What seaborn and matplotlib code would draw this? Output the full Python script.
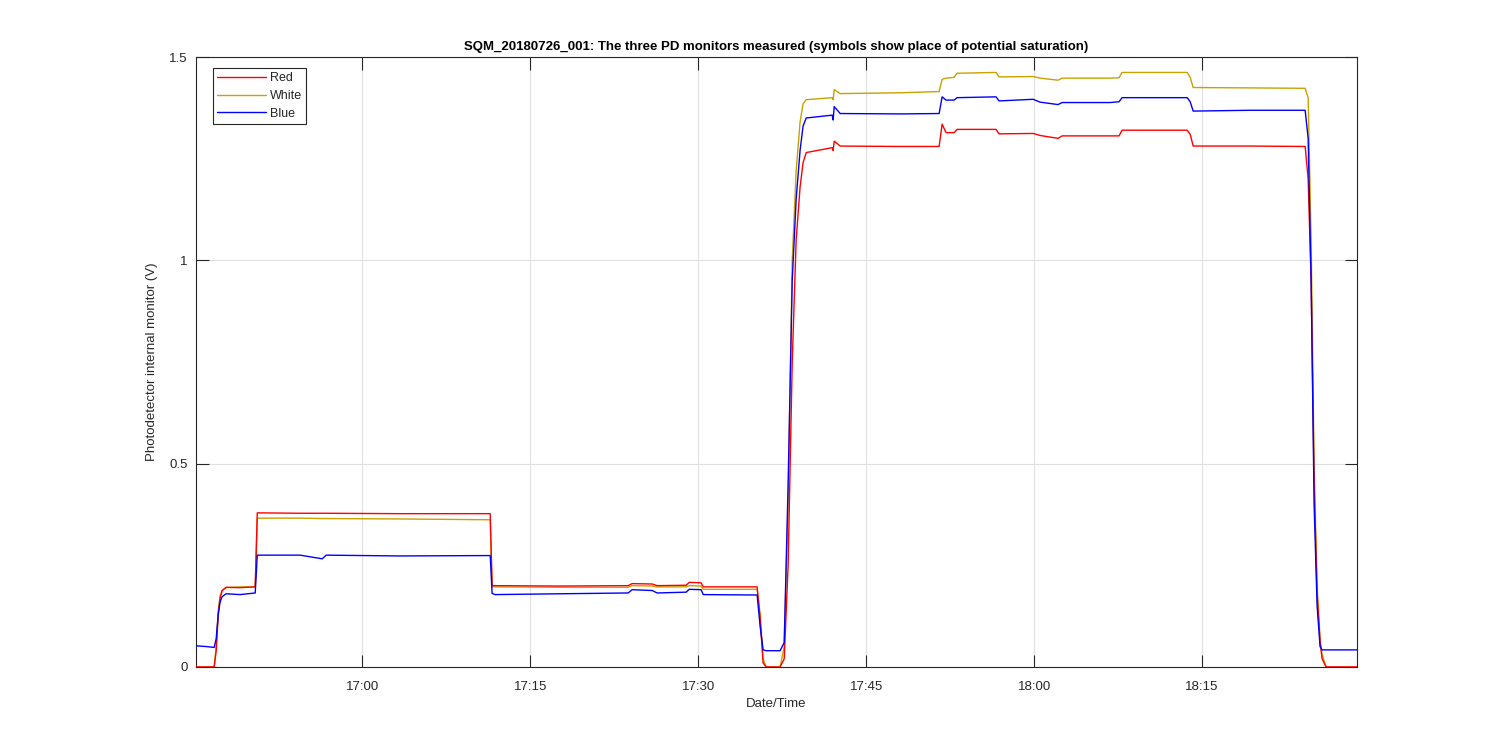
import pandas as pd
import matplotlib
matplotlib.use("Agg")
import matplotlib.pyplot as plt
import matplotlib.dates as mdates
import seaborn as sns

# --- data (breakpoints of the three monitor traces) ---
times = [
    "16:45:11", "16:46:10", "16:46:47", "16:46:58", "16:47:09", "16:47:19", "16:47:30",
    "16:47:51", "16:49:06", "16:50:27", "16:50:38", "16:54:28", "16:56:26", "16:56:47",
    "17:03:24", "17:11:26", "17:11:36", "17:11:52", "17:17:41", "17:23:45", "17:24:06",
    "17:25:54", "17:26:20", "17:28:56", "17:29:12", "17:30:16", "17:30:27", "17:35:16",
    "17:35:32", "17:35:48", "17:36:04", "17:37:19", "17:37:41", "17:38:02", "17:38:24",
    "17:38:45", "17:39:06", "17:39:22", "17:39:39", "17:41:58", "17:42:03", "17:42:09",
    "17:42:41", "17:48:02", "17:51:31", "17:51:47", "17:52:08", "17:52:51", "17:53:07",
    "17:56:36", "17:56:52", "17:59:55", "18:00:32", "18:02:08", "18:02:30", "18:06:47",
    "18:07:35", "18:07:51", "18:13:40", "18:13:56", "18:14:12", "18:19:17", "18:24:12",
    "18:24:28", "18:24:44", "18:25:00", "18:25:16", "18:25:32", "18:25:43", "18:26:04",
    "18:28:50",
]
red = [
    0, 0, 0, 0.04, 0.13, 0.17, 0.188,
    0.196, 0.195, 0.197, 0.379, 0.378, 0.378, 0.378,
    0.377, 0.377, 0.200, 0.200, 0.199, 0.200, 0.205,
    0.204, 0.200, 0.201, 0.208, 0.207, 0.197, 0.197,
    0.12, 0.01, 0, 0, 0.02, 0.25, 0.75,
    1.05, 1.18, 1.24, 1.265, 1.277, 1.270, 1.293,
    1.281, 1.280, 1.280, 1.335, 1.314, 1.314, 1.322,
    1.322, 1.311, 1.312, 1.307, 1.300, 1.306, 1.306,
    1.306, 1.320, 1.320, 1.310, 1.281, 1.281, 1.280,
    1.20, 0.95, 0.45, 0.18, 0.06, 0.02, 0,
    0,
]
white = [
    0, 0, 0, 0.05, 0.14, 0.175, 0.188,
    0.195, 0.197, 0.197, 0.366, 0.366, 0.365, 0.365,
    0.364, 0.362, 0.197, 0.197, 0.196, 0.196, 0.200,
    0.199, 0.197, 0.197, 0.200, 0.199, 0.191, 0.191,
    0.13, 0.02, 0, 0, 0.05, 0.40, 1.00,
    1.22, 1.34, 1.385, 1.395, 1.400, 1.395, 1.420,
    1.410, 1.412, 1.415, 1.445, 1.448, 1.450, 1.460,
    1.462, 1.451, 1.452, 1.448, 1.443, 1.448, 1.448,
    1.449, 1.462, 1.462, 1.450, 1.425, 1.424, 1.423,
    1.40, 1.05, 0.50, 0.20, 0.07, 0.03, 0,
    0,
]
blue = [
    0.052, 0.050, 0.048, 0.07, 0.13, 0.16, 0.173,
    0.180, 0.178, 0.182, 0.275, 0.275, 0.266, 0.275,
    0.273, 0.274, 0.181, 0.178, 0.180, 0.182, 0.190,
    0.188, 0.182, 0.184, 0.191, 0.190, 0.178, 0.177,
    0.10, 0.042, 0.040, 0.040, 0.06, 0.45, 0.95,
    1.15, 1.27, 1.33, 1.350, 1.357, 1.345, 1.378,
    1.361, 1.360, 1.361, 1.402, 1.394, 1.394, 1.400,
    1.402, 1.392, 1.396, 1.389, 1.383, 1.388, 1.388,
    1.390, 1.400, 1.400, 1.390, 1.367, 1.369, 1.369,
    1.30, 0.95, 0.40, 0.15, 0.05, 0.042, 0.042,
    0.042,
]

series_names = ["Red", "White", "Blue"]
series_colors = ["#FF0000", "#C9A100", "#0000FF"]

t = pd.to_datetime(["2018-07-26 " + s for s in times])
df = pd.DataFrame({"time": t, "Red": red, "White": white, "Blue": blue})

sns.set_theme(style="whitegrid")
plt.rcParams["font.family"] = ["Liberation Sans", "DejaVu Sans"]
text_col = "#262626"

fig = plt.figure(figsize=(15, 7.5), dpi=100)
ax = fig.add_axes([0.1307, 0.1107, 0.7740, 0.8133])

zorders = {"Red": 3, "White": 2, "Blue": 4}
for name, col in zip(series_names, series_colors):
    sns.lineplot(data=df, x="time", y=name, color=col, linewidth=1.0,
                 label=name, ax=ax, zorder=zorders[name])

ax.set_xlim(pd.Timestamp("2018-07-26 16:45:10"), pd.Timestamp("2018-07-26 18:28:50"))
ax.set_ylim(0, 1.5)
ax.set_yticks([0, 0.5, 1, 1.5])
ax.set_yticklabels(["0", "0.5", "1", "1.5"])
ax.xaxis.set_major_locator(mdates.MinuteLocator(byminute=[0, 15, 30, 45]))
ax.xaxis.set_major_formatter(mdates.DateFormatter("%H:%M"))

ax.grid(True, color="#DFDFDF", linewidth=0.8)
ax.set_facecolor("white")
for sp in ax.spines.values():
    sp.set_color(text_col)
    sp.set_linewidth(0.8)
    sp.set_visible(True)

ax.tick_params(axis="both", which="major", direction="in", length=9, width=0.8,
               color=text_col, labelcolor=text_col, labelsize=9.5,
               top=True, right=True, bottom=True, left=True)
ax.tick_params(axis="x", pad=10)
ax.tick_params(axis="y", pad=6)

ax.set_xlabel("Date/Time", fontsize=9.5, color=text_col, labelpad=4)
ax.set_ylabel("Photodetector internal monitor (V)", fontsize=9.5, color=text_col, labelpad=8)
ax.set_title("SQM_20180726_001: The three PD monitors measured (symbols show place of potential saturation)",
             fontsize=9.5, fontweight="bold", color="black", pad=5)

leg = ax.legend(loc="upper left", bbox_to_anchor=(0.0146, 0.982), borderaxespad=0,
                fontsize=9, handlelength=3.9, handletextpad=0.3, labelspacing=0.45,
                frameon=True, fancybox=False, borderpad=0.35)
leg.get_frame().set_edgecolor(text_col)
leg.get_frame().set_linewidth(0.8)
leg.get_frame().set_alpha(1)
for txt in leg.get_texts():
    txt.set_color(text_col)

fig.savefig("out.png", dpi=100, facecolor="white")
